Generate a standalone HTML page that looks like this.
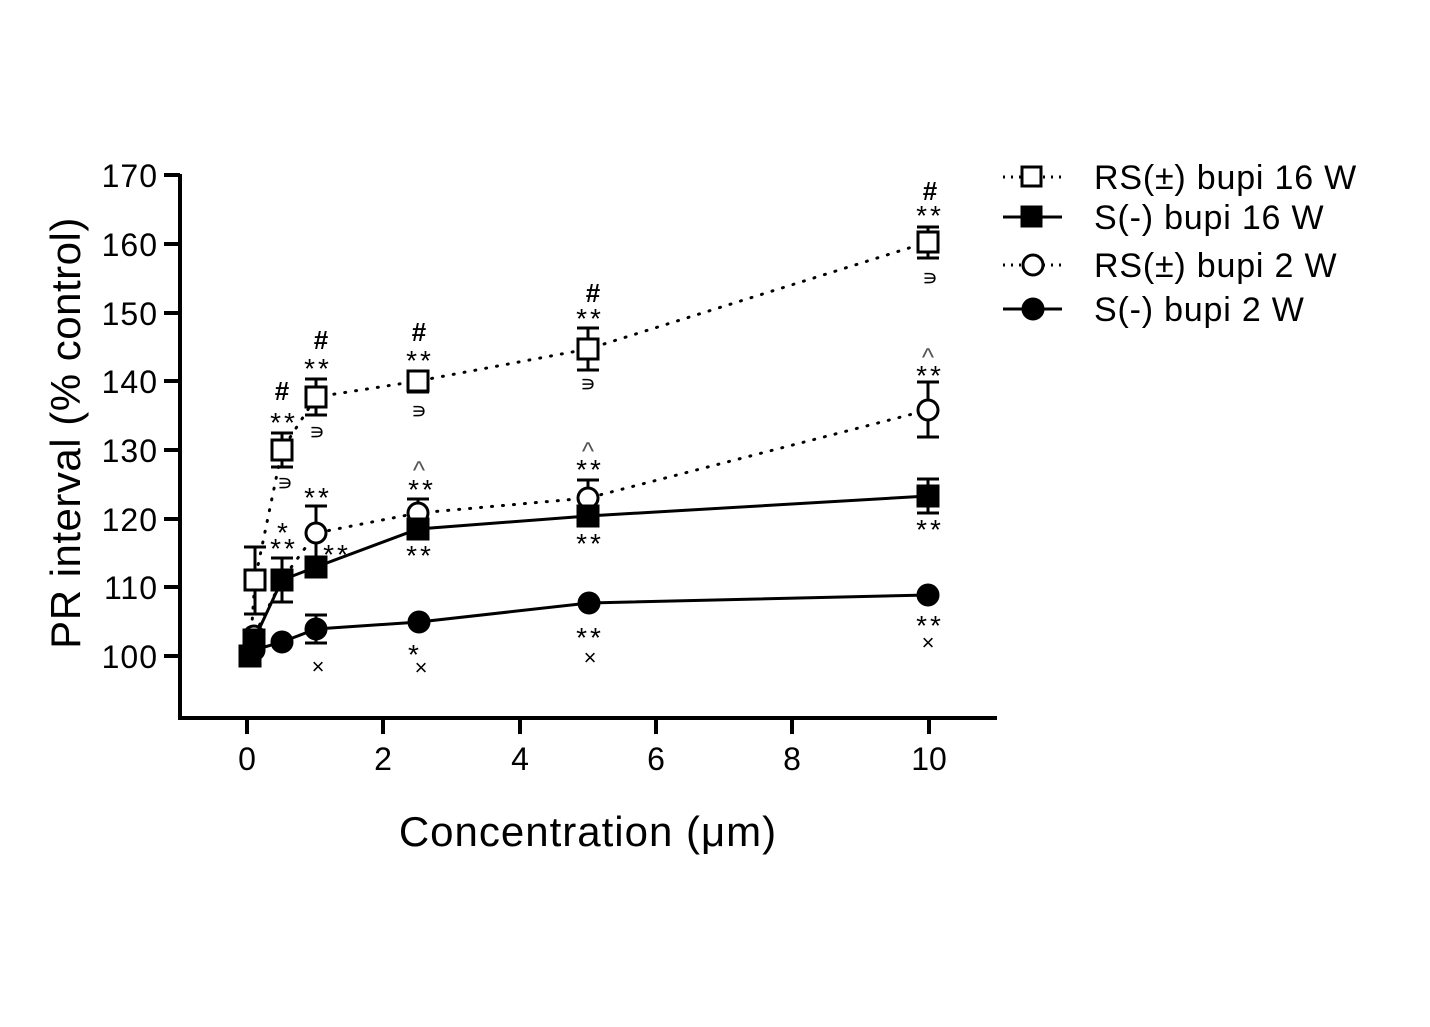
<!DOCTYPE html>
<html><head><meta charset="utf-8"><style>body{margin:0;background:#fff}svg{display:block}</style></head>
<body>
<svg width="1430" height="1027" viewBox="0 0 1430 1027" xmlns="http://www.w3.org/2000/svg" font-family="Liberation Sans, sans-serif">
<rect width="1430" height="1027" fill="#fff"/>
<g stroke="#000" stroke-width="4" fill="none">
<path d="M180,174 V718 H997"/>
<path d="M164,175H180M164,244H180M164,313H180M164,381H180M164,450H180M164,519H180M164,587H180M164,656H180"/>
<path d="M247,718V734M383,718V734M520,718V734M656,718V734M792,718V734M929,718V734"/>
</g>
<g font-size="32" text-anchor="end" fill="#000" letter-spacing="1">
<text x="158" y="187">170</text><text x="158" y="256">160</text><text x="158" y="325">150</text><text x="158" y="393">140</text><text x="158" y="462">130</text><text x="158" y="531">120</text><text x="158" y="599">110</text><text x="158" y="668">100</text>
</g>
<g font-size="32" text-anchor="middle">
<text x="247" y="770">0</text><text x="383" y="770">2</text><text x="520" y="770">4</text><text x="656" y="770">6</text><text x="792" y="770">8</text><text x="929" y="770">10</text>
</g>
<text x="588" y="846" font-size="42" text-anchor="middle" letter-spacing="1">Concentration (μm)</text>
<text transform="translate(80,433) rotate(-90)" font-size="42" text-anchor="middle" letter-spacing="0.5">PR interval (% control)</text>

<g fill="none" stroke="#000" stroke-width="3">
<polyline stroke-dasharray="1,10" stroke-linecap="round" points="250,652 255,580 282,450 316,397 418,381 588,349 928,242"/>
<polyline stroke-dasharray="1,10" stroke-linecap="round" points="249,656 254,636 282,580 316,533 418,513 588,498 928,410"/>
<polyline points="249,656 254,640 282,580 316,567 418,529 588,516 928,496"/>
<polyline points="249,656 254,650 282,642 316,629 419,622 589,603 928,595"/>
</g>
<g stroke="#000" stroke-width="3">
<path d="M255,547V614M244,547H266M244,614H266"/>
<path d="M282,433V467M271,433H293M271,467H293"/>
<path d="M316,379V415M305,379H327M305,415H327"/>
<path d="M418,371V392M407,371H429M407,392H429"/>
<path d="M588,328V370M577,328H599M577,370H599"/>
<path d="M928,227V258M917,227H939M917,258H939"/>
<path d="M316,506V560M305,506H327"/>
<path d="M418,499V526M407,499H429"/>
<path d="M588,480V516M577,480H599"/>
<path d="M928,382V437M917,382H939M917,437H939"/>
<path d="M282,558V602M271,558H293M271,602H293"/>
<path d="M928,479V513M917,479H939M917,513H939"/>
<path d="M316,615V643M305,615H327M305,643H327"/>
</g>
<g stroke="#000" stroke-width="3">
<rect x="240" y="646" width="20" height="20" fill="#000"/>
<circle cx="254" cy="636" r="10" fill="#fff"/>
<rect x="244" y="630" width="20" height="20" fill="#000"/>
<circle cx="254" cy="650" r="10" fill="#000"/>
<rect x="245" y="570" width="20" height="20" fill="#fff"/>
<rect x="272" y="440" width="20" height="20" fill="#fff"/>
<rect x="306" y="387" width="20" height="20" fill="#fff"/>
<rect x="408" y="371" width="20" height="20" fill="#fff"/>
<rect x="578" y="339" width="20" height="20" fill="#fff"/>
<rect x="918" y="232" width="20" height="20" fill="#fff"/>
<circle cx="316" cy="533" r="10" fill="#fff"/>
<circle cx="418" cy="513" r="10" fill="#fff"/>
<circle cx="588" cy="498" r="10" fill="#fff"/>
<circle cx="928" cy="410" r="10" fill="#fff"/>
<rect x="272" y="570" width="20" height="20" fill="#000"/>
<rect x="306" y="557" width="20" height="20" fill="#000"/>
<rect x="408" y="519" width="20" height="20" fill="#000"/>
<rect x="578" y="506" width="20" height="20" fill="#000"/>
<rect x="918" y="486" width="20" height="20" fill="#000"/>
<circle cx="282" cy="642" r="10" fill="#000"/>
<circle cx="316" cy="629" r="10" fill="#000"/>
<circle cx="419" cy="622" r="10" fill="#000"/>
<circle cx="589" cy="603" r="10" fill="#000"/>
<circle cx="928" cy="595" r="10" fill="#000"/>
</g>
<g font-size="28" text-anchor="middle" letter-spacing="3">
<text x="284" y="432">**</text><text x="318" y="378">**</text><text x="420" y="370">**</text><text x="590" y="328">**</text><text x="930" y="225">**</text>
<text x="318" y="507">**</text><text x="422" y="499">**</text><text x="590" y="479">**</text><text x="930" y="385">**</text>
<text x="284" y="542">*</text><text x="284" y="558">**</text><text x="337" y="564">**</text>
<text x="420" y="565">**</text><text x="590" y="553">**</text><text x="930" y="539">**</text>
<text x="590" y="647">**</text><text x="930" y="635">**</text><text x="415" y="664">*</text>
</g>
<g font-size="26" font-weight="bold" text-anchor="middle">
<text x="282" y="400">#</text><text x="321" y="349">#</text><text x="419" y="341">#</text><text x="593" y="302">#</text><text x="930" y="200">#</text>
</g>
<g font-size="22" text-anchor="middle">
<text x="285" y="490">∍</text><text x="317" y="439">∍</text><text x="419" y="418">∍</text><text x="588" y="391">∍</text><text x="930" y="285">∍</text>
<text x="318" y="674">×</text><text x="421" y="675">×</text><text x="590" y="665">×</text><text x="928" y="650">×</text>
</g>
<g font-size="26" text-anchor="middle" fill="#555">
<text x="419" y="479">^</text><text x="588" y="460">^</text><text x="928" y="366">^</text>
</g>
<g stroke="#000" stroke-width="3">
<path d="M1003,177H1062" stroke-dasharray="2,6"/>
<rect x="1022" y="167" width="19" height="19" fill="#fff"/>
<path d="M1003,217H1062"/>
<rect x="1022" y="207" width="19" height="19" fill="#000"/>
<path d="M1003,265H1062" stroke-dasharray="2,6"/>
<circle cx="1033" cy="265" r="10" fill="#fff"/>
<path d="M1003,309H1062"/>
<circle cx="1033" cy="309" r="10" fill="#000"/>
</g>
<g font-size="34" letter-spacing="0.8">
<text x="1094" y="189">RS(±) bupi 16 W</text>
<text x="1094" y="229">S(-) bupi 16 W</text>
<text x="1094" y="277">RS(±) bupi 2 W</text>
<text x="1094" y="321">S(-) bupi 2 W</text>
</g>
</svg>
</body></html>
